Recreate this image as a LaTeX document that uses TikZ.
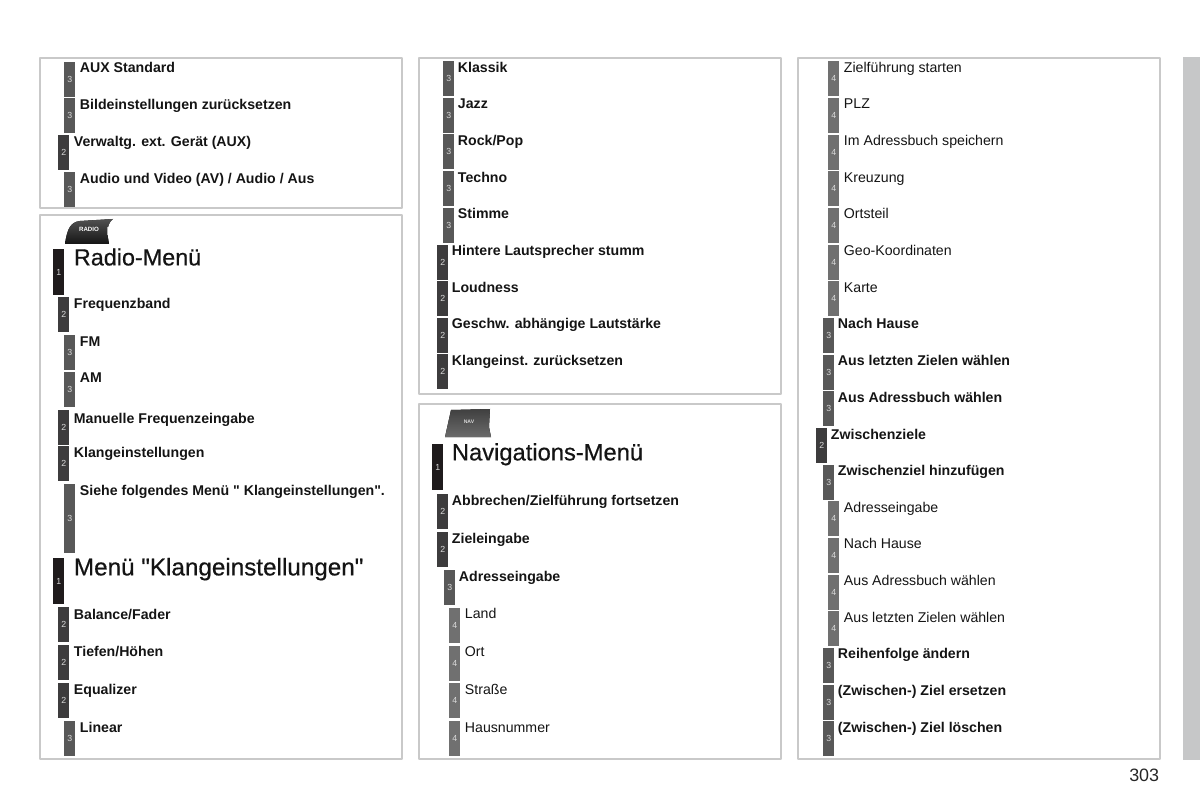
\documentclass[tikz,border=0pt]{standalone}
\usepackage{fontspec}
\setmainfont{Liberation Sans}[Ligatures=TeXOff]
\newfontfamily\headfont{Liberation Sans}[Ligatures=TeXOff,FakeBold=0.55]
\definecolor{frame}{HTML}{C9C9C9}
\definecolor{strip}{HTML}{C6C7C8}
\definecolor{tone1}{HTML}{1F1B1C}
\definecolor{tone2}{HTML}{3D3C3D}
\definecolor{tone3}{HTML}{585858}
\definecolor{tone4}{HTML}{707070}
\tikzset{
	bar/.style={anchor=north west,inner sep=0pt,minimum width=0.22cm,minimum height=0.7cm,text=white!85!black,font=\fontsize{5}{5}\selectfont},
	bar1/.style={bar,fill=tone1,minimum height=0.92cm},
	bar2/.style={bar,fill=tone2},
	bar3/.style={bar,fill=tone3},
	bar4/.style={bar,fill=tone4},
	tallbar/.style={bar3,minimum height=1.38cm},
	item/.style={anchor=base west,inner sep=0pt,text=black!92,yshift=-0.008cm,xshift=-0.008cm},
	item1/.style={item,font=\fontsize{13.3}{15}\headfont},
	item2/.style={item,font=\fontsize{8.05}{10}\selectfont\bfseries},
	item3/.style={item2},
	item4/.style={item,font=\fontsize{8.05}{10}\selectfont},
	tab/.style={inner sep=0pt,font=\fontsize{3.5}{4}\selectfont\bfseries},
}
\begin{document}
\begin{tikzpicture}[x=0.02cm,y=-0.02cm,line join=round]
	\useasboundingbox (0,0) rectangle (1200,800);
	% frames
	\draw[frame,line width=0.6pt] (40,58) rectangle (402,208) (40,215) rectangle (402,759)
	(419,58) rectangle (781,394) (419,404) rectangle (781,759) (798,58) rectangle (1160,759);
	\fill[strip] (1183,57) rectangle (1200,760);
	\node[anchor=base east,inner sep=0pt,text=black!85,font=\fontsize{10.2}{12}\selectfont] (pagenum) at (1159.5,781) {303};
	% radio tab
	\fill[top color=black!68,bottom color=black!92] (65,244) .. controls (67,230) and (70,222) .. (80,221) -- (113,219) .. controls (109,222) and (108,226) .. (107,232) -- (109,244) -- cycle;
	\fill[black!30] (106.5,227) rectangle (108,235);
	\node[tab,text=white] (radiotab) at (89,229) {RADIO};
	% nav tab
	\fill[top color=black!75,bottom color=black!58] (445,437) -- (451,410) -- (490,409) -- (489,427) -- (491,437) -- cycle;
	\node[tab,text=black!15,font=\fontsize{2.9}{3}\selectfont\bfseries] (navtab) at (469,422) {NAV};
	% menu entries
	\foreach \lvl/\barx/\bary/\txtx/\txty/\txt [count=\i] in {
		3/64/62/80/72/{AUX Standard},
		3/64/98/80/109/{Bildeinstellungen zurücksetzen},
		2/58/135/74/146/{Verwaltg. ext. Gerät (AUX)},
		3/64/172/80/183/{Audio und Video (AV) / Audio / Aus},
		1/53/249/74/265/{Radio-Menü},
		2/58/297/74/308/{Frequenzband},
		3/64/335/80/346/{FM},
		3/64/372/80/382/{AM},
		2/58/410/74/423/{Manuelle Frequenzeingabe},
		2/58/446/74/457/{Klangeinstellungen},
		1/53/558/74/575/{\fontsize{13.8}{15}\selectfont Menü "Klangeinstellungen"},
		2/58/607/74/619/{Balance/Fader},
		2/58/645/74/656/{Tiefen/Höhen},
		2/58/683/74/694/{Equalizer},
		3/64/721/80/732/{Linear},
		3/443/61/458/72/{Klassik},
		3/443/98/458/108/{Jazz},
		3/443/134/458/145/{Rock/Pop},
		3/443/171/458/182/{Techno},
		3/443/208/458/218/{Stimme},
		2/437/245/452/255/{Hintere Lautsprecher stumm},
		2/437/281/452/292/{Loudness},
		2/437/318/452/328/{Geschw. abhängige Lautstärke},
		2/437/354/452/365/{Klangeinst. zurücksetzen},
		1/432/444/452/460/{\fontsize{13.5}{15}\selectfont Navigations-Menü},
		2/437/494/452/505/{Abbrechen/Zielführung fortsetzen},
		2/437/532/452/543/{Zieleingabe},
		3/444/570/459/581/{Adresseingabe},
		4/449/608/465/618/{Land},
		4/449/646/465/656/{Ort},
		4/449/683/465/694/{Straße},
		4/449/721/465/732/{Hausnummer},
		4/828/61/844/72/{Zielführung starten},
		4/828/98/844/108/{PLZ},
		4/828/135/844/145/{Im Adressbuch speichern},
		4/828/171/844/182/{Kreuzung},
		4/828/208/844/218/{Ortsteil},
		4/828/245/844/255/{Geo-Koordinaten},
		4/828/281/844/292/{Karte},
		3/823/318/838/328/{Nach Hause},
		3/823/355/838/365/{Aus letzten Zielen wählen},
		3/823/391/838/402/{Aus Adressbuch wählen},
		2/816/428/831/439/{Zwischenziele},
		3/823/465/838/475/{Zwischenziel hinzufügen},
		4/828/501/844/512/{Adresseingabe},
		4/828/538/844/548/{Nach Hause},
		4/828/575/844/585/{Aus Adressbuch wählen},
		4/828/611/844/622/{Aus letzten Zielen wählen},
		3/823/648/838/658/{Reihenfolge ändern},
		3/823/685/838/695/{(Zwischen-) Ziel ersetzen},
		3/823/721/838/732/{(Zwischen-) Ziel löschen}} {
		\node[bar\lvl] (bar\i) at (\barx,\bary) {\lvl};
		\node[item\lvl] (entry\i) at (\txtx,\txty) {\txt};
	}
	\node[tallbar] (seebar) at (64,484) {3};
	\node[item3] (seeentry) at (80,495) {Siehe folgendes Menü " Klangeinstellungen".};
\end{tikzpicture}
\end{document}
